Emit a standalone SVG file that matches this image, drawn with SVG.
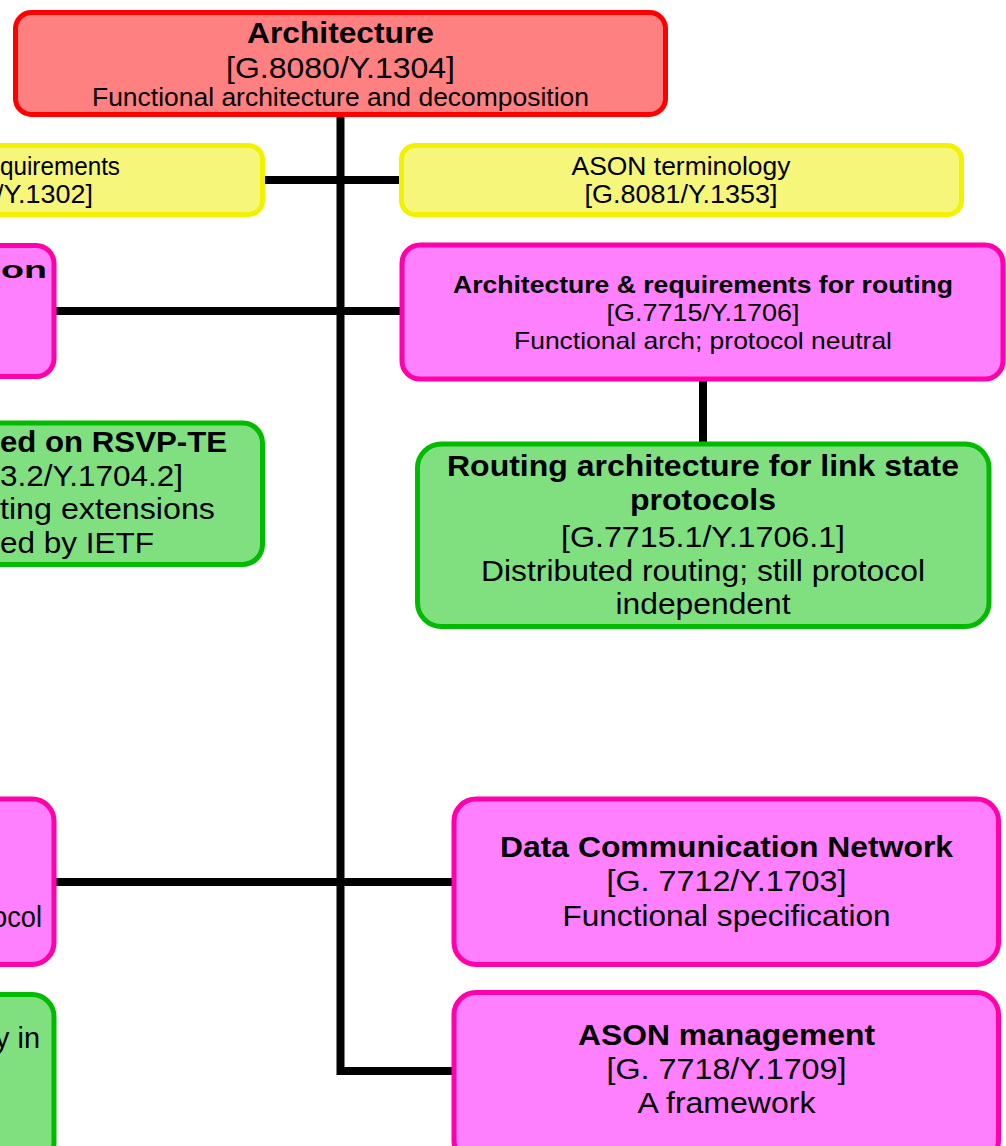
<svg xmlns="http://www.w3.org/2000/svg" width="1006" height="1146" viewBox="0 0 1006 1146">
<style>
.box{stroke-width:5}
.red{fill:#ff8080;stroke:#ff0000}
.yel{fill:#f6f67a;stroke:#f2f200}
.pink{fill:#ff80ff;stroke:#ff00aa}
.green{fill:#80e080;stroke:#00bb00}
text{font-family:"Liberation Sans",Arial,sans-serif;fill:#000;text-anchor:middle}
.b{font-weight:bold}
.e{text-anchor:start}
.conn{fill:none;stroke:#000;stroke-width:8;stroke-linejoin:miter;stroke-linecap:butt}
</style>
<rect width="1006" height="1146" fill="#ffffff"/>
<g id="connectors">
<path class="conn" d="M340.5 114 V1071 H455"/>
<path class="conn" d="M262 180 H403"/>
<path class="conn" d="M54 311 H404"/>
<path class="conn" d="M703 378 V445"/>
<path class="conn" d="M54 882 H455"/>
</g>
<g id="architecture">
<rect class="box red" x="15.5" y="12.5" width="650" height="102" rx="16"/>
<text class="b" x="340.5" y="43" font-size="30" textLength="187" lengthAdjust="spacingAndGlyphs">Architecture</text>
<text x="340.5" y="78" font-size="29" textLength="229" lengthAdjust="spacingAndGlyphs">[G.8080/Y.1304]</text>
<text x="340.5" y="106" font-size="25" textLength="497" lengthAdjust="spacingAndGlyphs">Functional architecture and decomposition</text>
</g>
<g id="requirements">
<rect class="box yel" x="-300" y="145.5" width="562.5" height="69" rx="14"/>
<text class="e" x="0" y="175" font-size="25" textLength="120" lengthAdjust="spacingAndGlyphs">quirements</text>
<text class="e" x="-4" y="203" font-size="25" textLength="97" lengthAdjust="spacingAndGlyphs">/Y.1302]</text>
</g>
<g id="terminology">
<rect class="box yel" x="401.5" y="145.5" width="560" height="69" rx="14"/>
<text x="681" y="175" font-size="25" textLength="219" lengthAdjust="spacingAndGlyphs">ASON terminology</text>
<text x="681" y="203" font-size="25" textLength="193" lengthAdjust="spacingAndGlyphs">[G.8081/Y.1353]</text>
</g>
<g id="left-pink-top">
<rect class="box pink" x="-300" y="245.5" width="354" height="131" rx="18"/>
<text class="b e" x="1" y="278" font-size="24" textLength="46" lengthAdjust="spacingAndGlyphs">on</text>
</g>
<g id="routing">
<rect class="box pink" x="402" y="245" width="601" height="134" rx="18"/>
<text class="b" x="703" y="293" font-size="24" textLength="500" lengthAdjust="spacingAndGlyphs">Architecture &amp; requirements for routing</text>
<text x="703" y="321" font-size="24" textLength="193" lengthAdjust="spacingAndGlyphs">[G.7715/Y.1706]</text>
<text x="703" y="349" font-size="24" textLength="378" lengthAdjust="spacingAndGlyphs">Functional arch; protocol neutral</text>
</g>
<g id="rsvp">
<rect class="box green" x="-300" y="423" width="562.5" height="141.5" rx="20"/>
<text class="b e" x="0" y="452" font-size="29" textLength="227" lengthAdjust="spacingAndGlyphs">ed on RSVP-TE</text>
<text class="e" x="0" y="486" font-size="29" textLength="183" lengthAdjust="spacingAndGlyphs">3.2/Y.1704.2]</text>
<text class="e" x="0" y="519" font-size="29" textLength="215" lengthAdjust="spacingAndGlyphs">ting extensions</text>
<text class="e" x="0" y="553" font-size="29" textLength="154" lengthAdjust="spacingAndGlyphs">ed by IETF</text>
</g>
<g id="link-state">
<rect class="box green" x="417.5" y="444" width="571.5" height="182.5" rx="24"/>
<text class="b" x="703" y="476" font-size="29" textLength="512" lengthAdjust="spacingAndGlyphs">Routing architecture for link state</text>
<text class="b" x="703" y="510" font-size="29" textLength="146" lengthAdjust="spacingAndGlyphs">protocols</text>
<text x="703" y="547" font-size="29" textLength="284" lengthAdjust="spacingAndGlyphs">[G.7715.1/Y.1706.1]</text>
<text x="703" y="581" font-size="29" textLength="444" lengthAdjust="spacingAndGlyphs">Distributed routing; still protocol</text>
<text x="703" y="614" font-size="29" textLength="175" lengthAdjust="spacingAndGlyphs">independent</text>
</g>
<g id="left-pink-bottom">
<rect class="box pink" x="-300" y="799" width="354" height="165.5" rx="22"/>
<text class="e" x="-8" y="927" font-size="29" textLength="50" lengthAdjust="spacingAndGlyphs">ocol</text>
</g>
<g id="dcn">
<rect class="box pink" x="454" y="799" width="544.5" height="165.5" rx="22"/>
<text class="b" x="726.5" y="857" font-size="29" textLength="453" lengthAdjust="spacingAndGlyphs">Data Communication Network</text>
<text x="726.5" y="891" font-size="29" textLength="240" lengthAdjust="spacingAndGlyphs">[G. 7712/Y.1703]</text>
<text x="726.5" y="926" font-size="29" textLength="328" lengthAdjust="spacingAndGlyphs">Functional specification</text>
</g>
<g id="left-green-bottom">
<rect class="box green" x="-300" y="994.5" width="354" height="170" rx="22"/>
<text class="e" x="-5" y="1048" font-size="29" textLength="45" lengthAdjust="spacingAndGlyphs">y in</text>
</g>
<g id="management">
<rect class="box pink" x="454" y="992.5" width="544.5" height="170" rx="22"/>
<text class="b" x="726.5" y="1045" font-size="29" textLength="297" lengthAdjust="spacingAndGlyphs">ASON management</text>
<text x="726.5" y="1079" font-size="29" textLength="240" lengthAdjust="spacingAndGlyphs">[G. 7718/Y.1709]</text>
<text x="726.5" y="1113" font-size="29" textLength="178" lengthAdjust="spacingAndGlyphs">A framework</text>
</g>
</svg>
